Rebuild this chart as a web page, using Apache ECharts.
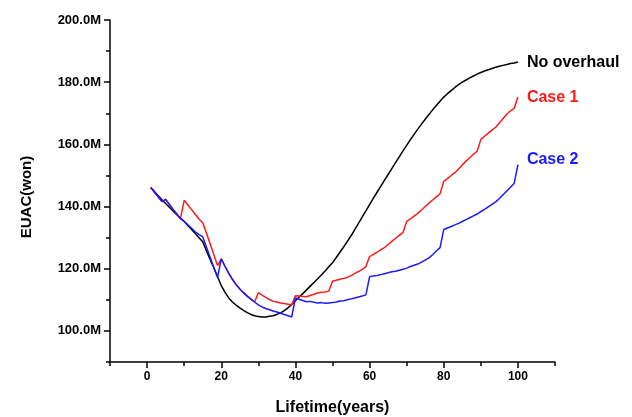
<!DOCTYPE html>
<html>
<head>
<meta charset="utf-8">
<script src="https://cdn.jsdelivr.net/npm/echarts@6/dist/echarts.min.js"></script>
<style>html,body{margin:0;padding:0;background:#fff}#c{width:632px;height:417px}</style>
</head>
<body>
<div id="c"></div>
<script>
// Lifetime (years) 1..100
const years = Array.from({length: 100}, (_, i) => i + 1);

// EUAC in millions of won
const noOverhaul = [
146.1,144.8,143.5,142.2,141.0,139.8,138.6,137.4,136.3,135.2,
133.9,132.6,131.3,130.0,128.7,125.8,123.0,120.3,117.4,114.6,
112.5,110.6,109.3,108.3,107.4,106.6,105.9,105.3,104.9,104.6,
104.5,104.5,104.7,104.9,105.3,105.8,106.5,107.4,108.5,109.7,
110.9,112.0,113.2,114.4,115.6,116.8,118.0,119.3,120.6,121.9,
123.6,125.3,127.0,128.8,130.6,132.6,134.6,136.6,138.6,140.6,
142.6,144.6,146.5,148.4,150.3,152.2,154.1,156.0,157.9,159.7,
161.5,163.2,164.9,166.5,168.1,169.6,171.1,172.5,173.9,175.2,
176.3,177.3,178.3,179.2,180.0,180.7,181.4,182.0,182.6,183.1,
183.6,184.0,184.4,184.8,185.1,185.4,185.7,186.0,186.2,186.5
];

const case1 = [
146.1,144.6,143.1,141.6,142.3,140.7,139.1,137.6,136.1,142.0,
140.5,139.0,137.5,136.0,134.8,131.5,128.0,124.5,121.0,123.2,
120.8,118.6,116.6,114.9,113.5,112.3,111.2,110.2,109.3,112.3,
111.5,110.8,110.1,109.5,109.3,109.0,108.8,108.6,108.4,111.3,
111.2,111.1,111.0,111.4,111.8,112.2,112.4,112.5,112.8,116.0,
116.3,116.6,116.9,117.2,117.8,118.5,119.1,119.8,120.6,123.9,
124.6,125.3,126.1,126.8,127.8,128.8,129.8,130.7,131.6,135.2,
136.0,136.9,137.8,138.9,140.0,141.1,142.1,143.1,144.1,148.1,
149.0,150.0,150.9,152.1,153.4,154.6,155.7,156.8,157.8,161.6,
162.6,163.6,164.6,165.5,166.9,168.3,169.7,170.8,171.6,175.2
];

const case2 = [
146.1,144.6,143.1,141.6,142.3,140.7,139.1,137.6,136.1,135.2,
134.1,133.0,131.9,131.0,130.3,127.0,123.7,120.4,117.2,123.2,
120.8,118.6,116.6,114.9,113.5,112.3,111.2,110.2,109.3,108.4,
107.7,107.2,106.8,106.4,106.1,105.7,105.3,104.9,104.5,110.6,
110.2,109.8,109.4,109.5,109.2,109.0,109.1,108.9,109.0,109.1,
109.3,109.6,109.7,110.0,110.3,110.6,110.9,111.2,111.6,117.4,
117.7,117.8,118.1,118.4,118.7,119.0,119.2,119.5,119.8,120.2,
120.7,121.1,121.5,122.1,122.8,123.5,124.5,125.7,126.8,132.6,
133.1,133.6,134.1,134.6,135.2,135.8,136.4,137.0,137.6,138.4,
139.1,139.9,140.7,141.5,142.6,143.8,145.0,146.2,147.5,153.5
];

const seriesNames = ['No overhaul', 'Case 1', 'Case 2'];
const xMajorTicks = [0, 20, 40, 60, 80, 100];
const yMajorTicks = [100, 120, 140, 160, 180, 200];

const font = '"Liberation Sans", Arial, sans-serif';
const pair = vals => years.map((y, i) => [y, vals[i]]);

const W = 632, H = 417, GL = 110, GR = 77, GT = 20, GB = 55;

const chart = echarts.init(document.getElementById('c'), null, {renderer: 'canvas'});

function lineSeries(name, vals, color, offY) {
  return {
    name: name, type: 'line', data: pair(vals), showSymbol: false, symbol: 'none',
    xAxisIndex: 0, yAxisIndex: 0,
    lineStyle: {color: color, width: 1.5}, itemStyle: {color: color},
    endLabel: {show: true, formatter: name, color: color, fontFamily: font,
      fontWeight: 'bold', fontSize: 16, distance: 9, offset: [0, offY]},
    animation: false, silent: true
  };
}

const axisLine = {show: true, onZero: false, lineStyle: {color: '#000', width: 1.5}};
const hiddenLine = {show: false, onZero: false};
const tickStyle = {color: '#000', width: 1.5};

chart.setOption({
  backgroundColor: '#fff',
  animation: false,
  grid: {left: GL, right: GR, top: GT, bottom: GB, containLabel: false, outerBoundsMode: 'none'},
  xAxis: [
    {type: 'value', min: -10, max: 110, interval: 10, position: 'bottom',
     axisLine: axisLine,
     axisTick: {show: true, length: 4, lineStyle: tickStyle},
     axisLabel: {show: true, customValues: xMajorTicks, color: '#000', fontFamily: font, fontWeight: 'bold', fontSize: 12, margin: 9},
     splitLine: {show: false},
     name: 'Lifetime(years)', nameLocation: 'middle', nameGap: 38,
     nameTextStyle: {color: '#000', fontFamily: font, fontWeight: 'bold', fontSize: 16}},
    {type: 'value', min: -10, max: 110, position: 'top', offset: -(H - GT - GB),
     axisLine: hiddenLine,
     axisTick: {show: true, inside: true, customValues: xMajorTicks, length: 6, lineStyle: tickStyle},
     axisLabel: {show: false}, splitLine: {show: false}}
  ],
  yAxis: [
    {type: 'value', min: 90, max: 200, interval: 10, position: 'left',
     axisLine: axisLine,
     axisTick: {show: true, length: 4, lineStyle: tickStyle},
     axisLabel: {show: true, customValues: yMajorTicks, color: '#000', fontFamily: font, fontWeight: 'bold', fontSize: 13, margin: 9,
       formatter: v => v.toFixed(1) + 'M'},
     splitLine: {show: false},
     name: 'EUAC(won)', nameLocation: 'middle', nameGap: 76, nameRotate: 90,
     nameTextStyle: {color: '#000', fontFamily: font, fontWeight: 'bold', fontSize: 15, padding: [0, 12, 0, 0]}},
    {type: 'value', min: 90, max: 200, position: 'right', offset: -(W - GL - GR),
     axisLine: hiddenLine,
     axisTick: {show: true, inside: true, customValues: yMajorTicks, length: 6, lineStyle: tickStyle},
     axisLabel: {show: false}, splitLine: {show: false}}
  ],
  series: [
    lineSeries(seriesNames[0], noOverhaul, '#000000', 1),
    lineSeries(seriesNames[1], case1, '#ff1a1a', 0),
    lineSeries(seriesNames[2], case2, '#1a1aff', -5)
  ]
});
</script>
</body>
</html>
